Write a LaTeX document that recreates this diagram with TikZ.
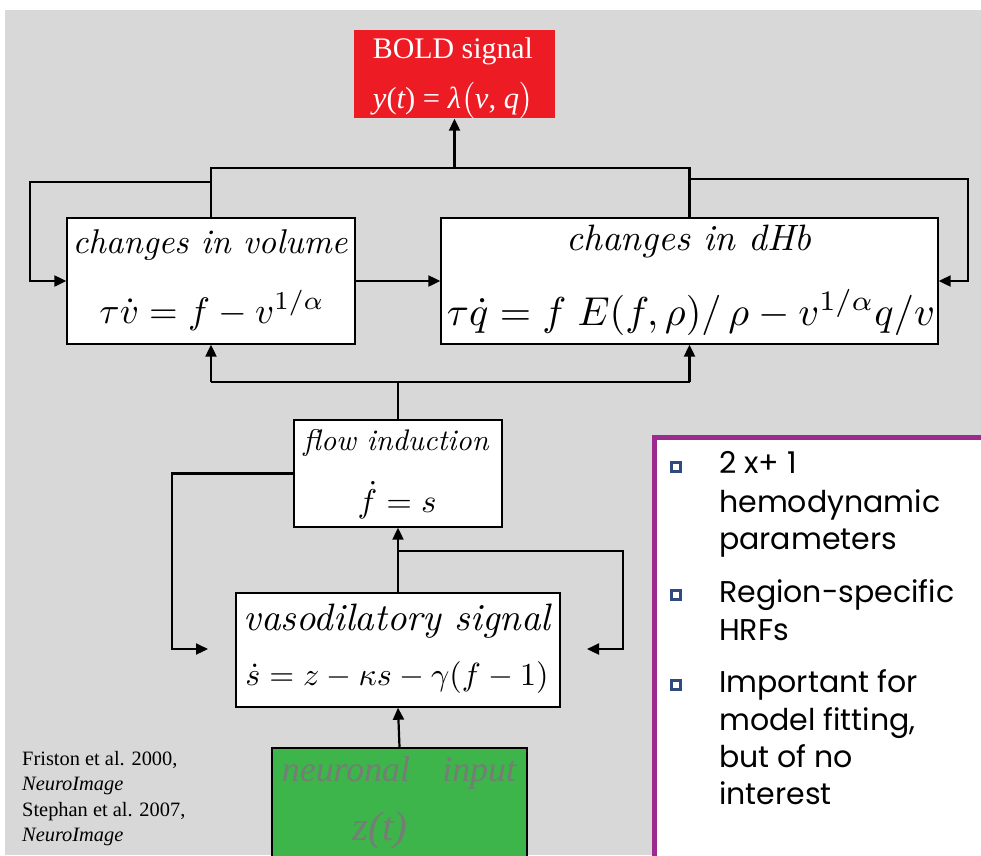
\RequirePackage{fix-cm}
\documentclass[tikz,border=0pt]{standalone}
\usepackage{fontspec}
\usepackage{graphicx}
\usetikzlibrary{arrows.meta}
\newfontfamily\timesf{Liberation Serif}
\newfontfamily\gothic{Poppins}
\definecolor{bgmarble}{HTML}{D8D8D8}
\definecolor{boldred}{HTML}{ED1C24}
\definecolor{ingreen}{HTML}{3DB54A}
\definecolor{panelpurple}{HTML}{9C2A8F}
\definecolor{bulletblue}{HTML}{2F4B7C}
\definecolor{greytext}{HTML}{767C76}
\newcommand\fitw[2]{\resizebox{#1pt}{!}{#2}}
\begin{document}
\begin{tikzpicture}[x=1pt,y=-1pt,
  box/.style={draw=black, line width=1.4pt, fill=white, inner sep=0pt},
  ln/.style={line width=2.2pt},
  arr/.style={line width=2.2pt, -{Triangle[length=12pt,width=11pt]}},
  txt/.style={inner sep=0pt, anchor=base},
  bul/.style={draw=bulletblue, line width=2.6pt, fill=white, minimum size=9pt, inner sep=0pt},
  pline/.style={inner sep=0pt, anchor=base west, font=\gothic\fontsize{30}{36}\selectfont},
  cite/.style={inner sep=0pt, anchor=base west, font=\timesf\fontsize{20.4}{24}\selectfont}]
\useasboundingbox (0,0) rectangle (981,855);
\fill[white] (0,0) rectangle (981,855);
\fill[bgmarble] (5,10) rectangle (981,855);

% boxes
\node[box, draw=none, fill=boldred, minimum width=201pt, minimum height=88pt] (bold) at (454.5,74) {};
\node[box, minimum width=288pt, minimum height=126pt] (vol) at (211,281) {};
\node[box, minimum width=497pt, minimum height=126pt] (dHb) at (689.5,281) {};
\node[box, minimum width=208pt, minimum height=107pt] (flow) at (398,473.5) {};
\node[box, minimum width=324pt, minimum height=114pt] (vaso) at (398,650) {};
\node[box, fill=ingreen, minimum width=255pt, minimum height=122pt] (green) at (399.5,809) {};

% texts in boxes
\node[txt, text=white] (boldt) at (453,58) {\fitw{160}{\timesf BOLD signal}};
\node[txt, text=white] (boldf) at (453,108) {\fitw{160}{\timesf\itshape y\upshape(\itshape t\upshape) = \itshape λ$\bigl($v\upshape, \itshape q$\bigr)$}};
\node[txt] (volt) at (210,253) {\fitw{275}{\itshape changes in volume}};
\node[txt] (volf) at (212,323) {\fitw{225}{$\tau\dot{v}=f-v^{1/\alpha}$}};
\node[txt] (dHbt) at (689,250) {\fitw{245}{\itshape changes in dHb}};
\node[txt] (dHbf) at (691,325) {\fitw{488}{$\tau\dot{q}=f\;E(f,\rho)/\,\rho-v^{1/\alpha}q/v$}};
\node[txt] (flowt) at (396,450) {\fitw{185}{\itshape flow induction}};
\node[txt] (flowf) at (397,512) {\fitw{79}{$\dot{f}=s$}};
\node[txt] (vasot) at (397,630) {\fitw{307}{\itshape vasodilatory signal}};
\node[txt] (vasof) at (397,685) {\fitw{303}{$\dot{s}=z-\kappa s-\gamma(f-1)$}};
\node[txt, text=greytext] (greent) at (399,781) {\fitw{234}{\timesf\itshape neuronal\hspace{0.9em}input}};
\node[txt, text=greytext] (greenf) at (380,840) {\fitw{55}{\timesf\itshape z(t)}};

% bend points
\coordinate (jt) at (454.5,168);
\coordinate (tl) at (211,168);
\coordinate (tr) at (689.5,168);
\coordinate (vfa) at (211,182);
\coordinate (vfb) at (30,182);
\coordinate (vfc) at (30,281);
\coordinate (dfa) at (689.5,179);
\coordinate (dfb) at (968,179);
\coordinate (dfc) at (968,281);
\coordinate (bl) at (211,382);
\coordinate (bm) at (398,382);
\coordinate (br) at (689.5,382);
\coordinate (ffa) at (172,473.5);
\coordinate (ffb) at (172,649);
\coordinate (ffc) at (208,649);
\coordinate (sfa) at (398,551);
\coordinate (sfb) at (623,551);
\coordinate (sfc) at (623,649);
\coordinate (sfd) at (587,649);

% connectors
\draw[ln] (vol.north) -- (tl) -- (tr) -- (dHb.north);
\draw[arr] (jt) -- (bold.south);
\draw[arr] (vfa) -- (vfb) -- (vfc) -- (vol.west);
\draw[arr] (dfa) -- (dfb) -- (dfc) -- (dHb.east);
\draw[arr] (vol.east) -- (dHb.west);
\draw[ln] (flow.north) -- (bm);
\draw[ln] (bl) -- (br);
\draw[arr] (bl) -- (vol.south);
\draw[arr] (br) -- (dHb.south);
\draw[arr] (flow.west) -- (ffa) -- (ffb) -- (ffc);
\draw[arr] (vaso.north) -- (flow.south);
\draw[arr] (sfa) -- (sfb) -- (sfc) -- (sfd);
\draw[arr] (green.north) -- (vaso.south);

% citation
\node[cite] (c1) at (22,765) {Friston et al. 2000,};
\node[cite] (c2) at (22,790) {\itshape NeuroImage};
\node[cite] (c3) at (22,816) {Stephan et al. 2007,};
\node[cite] (c4) at (22,841) {\itshape NeuroImage};

% panel
\node[draw=panelpurple, line width=5pt, fill=white, inner sep=0pt, minimum width=340pt, minimum height=440pt, anchor=north west] (panel) at (652,435) {};
\node[bul] (b1) at (676,467) {};
\node[bul] (b2) at (676,595) {};
\node[bul] (b3) at (676,685) {};
\node[pline] (p1) at (719,473) {2 x+ 1};
\node[pline] (p2) at (719,512) {hemodynamic};
\node[pline] (p3) at (719,549) {parameters};
\node[pline] (p4) at (719,602) {Region-specific};
\node[pline] (p5) at (719,640) {HRFs};
\node[pline] (p6) at (719,692) {Important for};
\node[pline] (p7) at (719,730) {model fitting,};
\node[pline] (p8) at (719,767) {but of no};
\node[pline] (p9) at (719,804) {interest};
\end{tikzpicture}
\end{document}
